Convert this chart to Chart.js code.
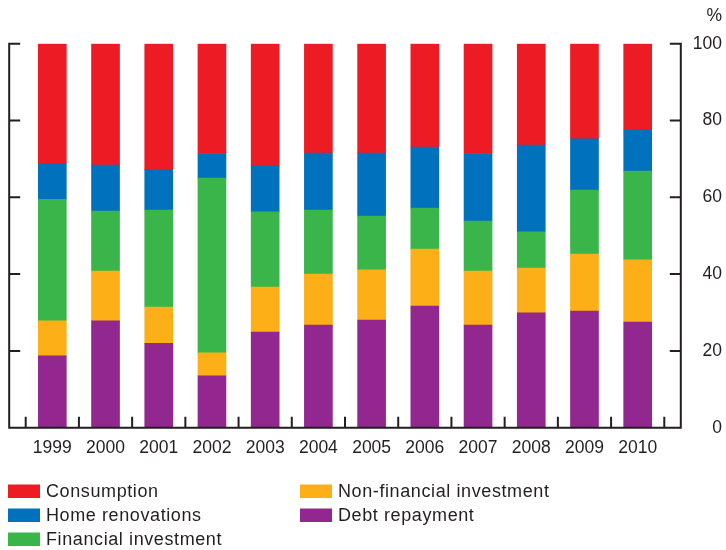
<!DOCTYPE html>
<html>
<head>
<meta charset="utf-8">
<script src="https://cdn.jsdelivr.net/npm/chart.js@4/dist/chart.umd.min.js"></script>
<style>
  html, body { margin: 0; padding: 0; background: #fff; }
  #wrap { width: 726px; height: 550px; position: relative; }
</style>
</head>
<body>
<div id="wrap"><canvas id="chart" width="726" height="550"></canvas></div>
<script>
// Uses of household equity withdrawal, per cent of total
const years = ['1999', '2000', '2001', '2002', '2003', '2004', '2005', '2006', '2007', '2008', '2009', '2010'];
const debtRepayment = [18.7, 27.8, 22.0, 13.5, 24.9, 26.7, 28.0, 31.7, 26.7, 29.9, 30.4, 27.5];
const nonFinancialInvestment = [9.1, 13.0, 9.4, 6.0, 11.7, 13.3, 13.1, 14.8, 14.1, 11.7, 14.8, 16.2];
const financialInvestment = [31.7, 15.6, 25.3, 45.5, 19.6, 16.7, 14.0, 10.7, 13.0, 9.4, 16.7, 23.1];
const homeRenovations = [9.25, 12.0, 10.5, 6.4, 12.0, 14.8, 16.4, 15.9, 17.6, 22.6, 13.3, 10.8];
const consumption = [31.25, 31.6, 32.8, 28.6, 31.8, 28.5, 28.5, 26.9, 28.6, 26.4, 24.8, 22.4];
const yTicks = [0, 20, 40, 60, 80, 100];
const unitLabel = '%';

const INK = '#231f20';
const FONT = '"Liberation Sans", Arial, Helvetica, sans-serif';

// stacking order: first dataset sits at the bottom
const datasets = [
    { label: 'Debt repayment', data: debtRepayment, backgroundColor: '#92278f' },
    { label: 'Non-financial investment', data: nonFinancialInvestment, backgroundColor: '#fcaf17' },
    { label: 'Financial investment', data: financialInvestment, backgroundColor: '#3ab54a' },
    { label: 'Home renovations', data: homeRenovations, backgroundColor: '#0071bc' },
    { label: 'Consumption', data: consumption, backgroundColor: '#ed1c24' }
];

// legend is laid out in two columns, top to bottom
const legendColumns = [
    ['Consumption', 'Home renovations', 'Financial investment'],
    ['Non-financial investment', 'Debt repayment']
];

const axesPlugin = {
    id: 'axesPlugin',
    afterDatasetsDraw(chart) {
        const ctx = chart.ctx;
        const xs = chart.scales.x;
        const ys = chart.scales.y;
        const area = chart.chartArea;
        const slot = xs.getPixelForValue(1) - xs.getPixelForValue(0);
        const overhang = slot * 0.31;
        const xL = area.left - overhang;
        const xR = area.right + overhang;
        const y0 = ys.getPixelForValue(0);
        const yTop = ys.getPixelForValue(100);
        const tick = 11;

        ctx.save();
        ctx.strokeStyle = INK;
        ctx.lineWidth = 2;
        ctx.lineCap = 'butt';

        ctx.beginPath();
        // bottom axis
        ctx.moveTo(xL - 1, y0);
        ctx.lineTo(xR + 1, y0);
        // left and right axes
        ctx.moveTo(xL, y0);
        ctx.lineTo(xL, yTop - 1);
        ctx.moveTo(xR, y0);
        ctx.lineTo(xR, yTop - 1);
        // inward ticks on both vertical axes
        yTicks.forEach(v => {
            const y = ys.getPixelForValue(v);
            ctx.moveTo(xL, y);
            ctx.lineTo(xL + tick, y);
            ctx.moveTo(xR, y);
            ctx.lineTo(xR - tick, y);
        });
        // category boundary ticks, pointing up
        for (let i = 0; i <= years.length; i++) {
            const x = xs.getPixelForValue(0) - slot / 2 + i * slot;
            ctx.moveTo(x, y0);
            ctx.lineTo(x, y0 - tick);
        }
        ctx.stroke();

        // unit label above the right axis
        ctx.fillStyle = INK;
        ctx.font = '17.5px ' + FONT;
        ctx.textAlign = 'right';
        ctx.textBaseline = 'middle';
        ctx.fillText(unitLabel, 722, 16);

        // legend
        ctx.font = '18px ' + FONT;
        ctx.letterSpacing = '0.6px';
        ctx.textAlign = 'left';
        const colX = [8, 300];
        legendColumns.forEach((col, c) => {
            col.forEach((name, r) => {
                const ds = chart.data.datasets.find(d => d.label === name);
                const top = 484.5 + r * 24;
                ctx.fillStyle = ds.backgroundColor;
                ctx.fillRect(colX[c], top, 32, 13.5);
                ctx.fillStyle = INK;
                ctx.fillText(name, colX[c] + 38, top + 7.5);
            });
        });
        ctx.restore();
    }
};

new Chart(document.getElementById('chart'), {
    type: 'bar',
    data: { labels: years, datasets: datasets },
    plugins: [axesPlugin],
    options: {
        responsive: false,
        animation: false,
        events: [],
        layout: { padding: { left: 25.7, top: 43.7, right: 4, bottom: 92.3 } },
        datasets: { bar: { barThickness: 28, borderWidth: 0 } },
        plugins: {
            legend: { display: false },
            tooltip: { enabled: false }
        },
        scales: {
            x: {
                stacked: true,
                offset: true,
                grid: { display: false, drawTicks: false },
                border: { display: false },
                ticks: {
                    color: INK,
                    font: { family: FONT, size: 17.5 },
                    padding: 10,
                    maxRotation: 0
                },
                afterFit(scale) { scale.height = 30; }
            },
            y: {
                stacked: true,
                position: 'right',
                min: 0,
                max: 100,
                grid: { display: false, drawTicks: false },
                border: { display: false },
                afterBuildTicks(scale) { scale.ticks = yTicks.map(v => ({ value: v })); },
                ticks: {
                    color: INK,
                    font: { family: FONT, size: 17.5 },
                    crossAlign: 'far',
                    padding: 28
                },
                afterFit(scale) { scale.width = 57.7; }
            }
        }
    }
});
</script>
</body>
</html>
